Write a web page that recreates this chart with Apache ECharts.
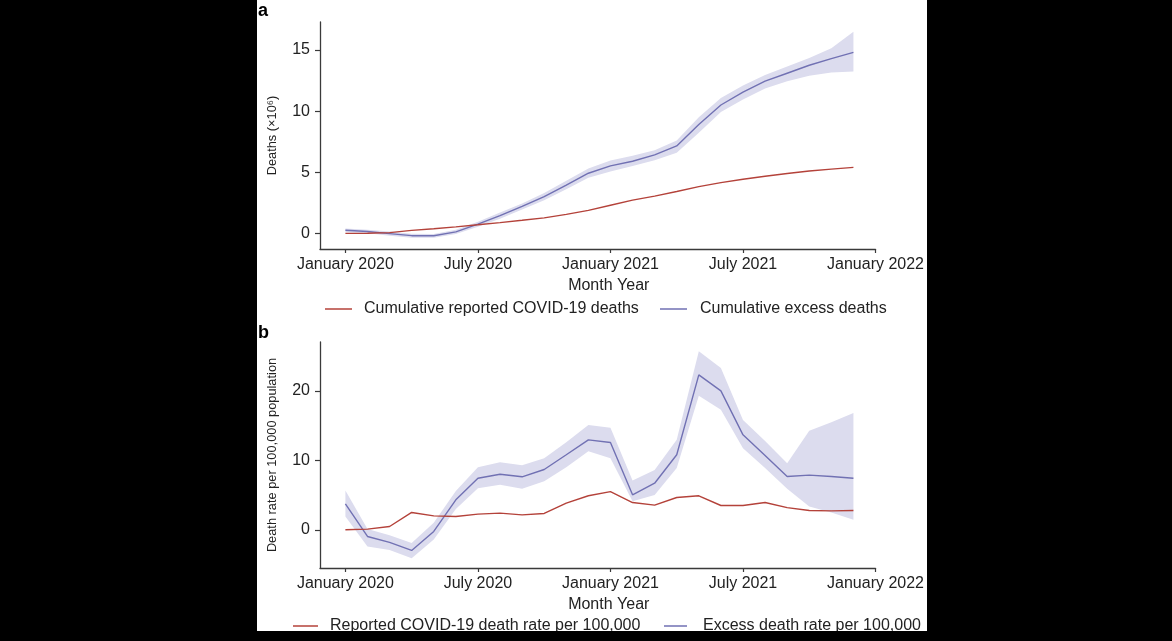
<!DOCTYPE html>
<html>
<head>
<meta charset="utf-8">
<script src="https://cdn.jsdelivr.net/npm/echarts@6/dist/echarts.min.js"></script>
<style>
  html, body { margin: 0; padding: 0; background: #000; width: 1172px; height: 641px; overflow: hidden; }
  #chart { position: absolute; left: 257px; top: 0; width: 670px; height: 631px; background: #fff; }
</style>
</head>
<body>
<div id="chart"></div>
<script>
// Months counted from January 2020 (0 = Jan 2020 ... 23 = Dec 2021)
const months = [0, 1, 2, 3, 4, 5, 6, 7, 8, 9, 10, 11, 12, 13, 14, 15, 16, 17, 18, 19, 20, 21, 22, 23];
const tickMonths = [0, 6, 12, 18, 24];
const tickLabels = ['January 2020', 'July 2020', 'January 2021', 'July 2021', 'January 2022'];

// Panel a: cumulative deaths (millions)
const cumReported = [0, 0.01, 0.06, 0.24, 0.38, 0.53, 0.7, 0.88, 1.07, 1.27, 1.55, 1.88,
                     2.3, 2.72, 3.05, 3.42, 3.82, 4.15, 4.43, 4.67, 4.9, 5.1, 5.25, 5.4];
const cumExcess = [0.25, 0.15, -0.02, -0.19, -0.2, 0.12, 0.75, 1.45, 2.2, 3.0, 3.95, 4.92,
                   5.52, 5.9, 6.42, 7.15, 8.9, 10.5, 11.55, 12.45, 13.1, 13.75, 14.3, 14.8];
const cumExcessLow = [0.1, 0.0, -0.2, -0.35, -0.35, -0.05, 0.55, 1.2, 1.95, 2.7, 3.6, 4.55,
                      5.05, 5.5, 5.98, 6.6, 8.24, 9.93, 10.95, 11.85, 12.45, 12.9, 13.15, 13.25];
const cumExcessHigh = [0.4, 0.3, 0.15, -0.03, -0.05, 0.3, 0.95, 1.7, 2.45, 3.3, 4.3, 5.3,
                       5.95, 6.35, 6.8, 7.6, 9.5, 11.07, 12.1, 12.95, 13.65, 14.35, 15.15, 16.5];
const cumYTicks = [0, 5, 10, 15];

// Panel b: monthly death rate per 100,000 population
const rateReported = [0, 0.1, 0.48, 2.5, 2.0, 1.92, 2.25, 2.4, 2.15, 2.35, 3.84, 4.9,
                      5.5, 3.93, 3.55, 4.65, 4.9, 3.5, 3.5, 3.93, 3.2, 2.78, 2.73, 2.78];
const rateExcess = [3.74, -0.96, -1.82, -2.97, -0.24, 4.32, 7.43, 8.0, 7.63, 8.68, 10.8, 12.95,
                    12.57, 5.04, 6.71, 10.8, 22.3, 20.0, 13.67, 10.7, 7.67, 7.87, 7.67, 7.43];
const rateExcessLow = [1.9, -2.4, -2.9, -4.1, -1.4, 3.0, 6.0, 6.5, 5.9, 7.0, 9.0, 11.3,
                       10.3, 4.1, 5.0, 8.9, 19.3, 17.3, 11.75, 8.9, 5.9, 3.35, 2.5, 1.45];
const rateExcessHigh = [5.66, 0.1, -0.8, -1.9, 1.0, 5.6, 9.0, 9.74, 9.3, 10.3, 12.6, 15.1,
                        14.7, 7.1, 8.6, 12.95, 25.7, 23.3, 15.8, 12.8, 9.6, 14.25, 15.5, 16.8];
const rateYTicks = [0, 10, 20];

const RED = '#b4423a';
const BLUE = '#7171b3';
const BAND = '#dcdcee';
const INK = '#222';
const AXIS = '#3a3a3a';
const FONT = '"Liberation Sans", Arial, Helvetica, sans-serif';

const pairs = (ys) => months.map((m, i) => [m, ys[i]]);
const bandRows = (lo, hi) => months.map((m, i) => [m, lo[i], hi[i]]);

function xAxisFor(gridIndex) {
  return {
    type: 'value', gridIndex, min: -1.15, max: 24,
    name: 'Month Year', nameLocation: 'middle', nameGap: 29,
    nameTextStyle: { fontFamily: FONT, fontSize: 16, color: INK, padding: [0, 0, 0, 22] },
    axisLine: { show: true, onZero: false, lineStyle: { color: AXIS, width: 1.3 } },
    axisTick: { show: true, customValues: tickMonths, length: 4, lineStyle: { color: AXIS, width: 1.2 } },
    axisLabel: {
      customValues: tickMonths, margin: 8, fontFamily: FONT, fontSize: 16, color: INK,
      formatter: (v) => tickLabels[tickMonths.indexOf(Math.round(v))] || ''
    },
    splitLine: { show: false }
  };
}

function yAxisFor(gridIndex, min, max, ticks, name) {
  return {
    type: 'value', gridIndex, min, max,
    name, nameLocation: 'middle', nameGap: 41,
    nameTextStyle: { fontFamily: FONT, fontSize: 12.8, color: INK },
    axisLine: { show: true, onZero: false, lineStyle: { color: AXIS, width: 1.3 } },
    axisTick: { show: true, customValues: ticks, length: 5, lineStyle: { color: AXIS, width: 1.2 } },
    axisLabel: { customValues: ticks, margin: 10, fontFamily: FONT, fontSize: 16, color: INK },
    splitLine: { show: false }
  };
}

// Shaded uncertainty band: one polygon through the upper bounds and back along the lower bounds
function bandSeries(idx, lo, hi) {
  return {
    type: 'custom', xAxisIndex: idx, yAxisIndex: idx, silent: true, z: 1,
    data: bandRows(lo, hi),
    encode: { x: 0, y: [1, 2] },
    renderItem: (params, api) => {
      if (params.dataIndex !== 0) return null;
      const upper = [];
      const lower = [];
      for (let i = 0; i < months.length; i++) {
        upper.push(api.coord([months[i], hi[i]]));
        lower.push(api.coord([months[i], lo[i]]));
      }
      return {
        type: 'polygon',
        shape: { points: upper.concat(lower.reverse()) },
        style: { fill: BAND, stroke: null }
      };
    }
  };
}

function panelSeries(idx, lo, hi, excess, reported, excessName, reportedName) {
  return [
    bandSeries(idx, lo, hi),
    {
      name: excessName, type: 'line', xAxisIndex: idx, yAxisIndex: idx, data: pairs(excess),
      symbol: 'none', lineStyle: { color: BLUE, width: 1.4 }, itemStyle: { color: BLUE }, z: 3
    },
    {
      name: reportedName, type: 'line', xAxisIndex: idx, yAxisIndex: idx, data: pairs(reported),
      symbol: 'none', lineStyle: { color: RED, width: 1.4 }, itemStyle: { color: RED }, z: 4
    }
  ];
}

function legendItem(name, color, left, top, width, textGap) {
  return {
    data: [name], left, top, icon: 'rect', itemWidth: width, itemHeight: 1.5,
    selectedMode: false, padding: 0,
    itemStyle: { color },
    textStyle: { fontFamily: FONT, fontSize: 16, color: INK, padding: [0, 0, 0, textGap] }
  };
}

const chart = echarts.init(document.getElementById('chart'), null, { renderer: 'canvas' });

chart.setOption({
  animation: false,
  backgroundColor: '#fff',
  title: [
    { text: 'a', left: 1, top: 2, padding: 0, textStyle: { fontFamily: FONT, fontSize: 18, fontWeight: 900, color: '#000' } },
    { text: 'b', left: 1, top: 324, padding: 0, textStyle: { fontFamily: FONT, fontSize: 18, fontWeight: 900, color: '#000' } }
  ],
  grid: [
    { left: 63, top: 22, width: 563, height: 227 },
    { left: 63, top: 342, width: 563, height: 226 }
  ],
  xAxis: [xAxisFor(0), xAxisFor(1)],
  yAxis: [
    yAxisFor(0, -1.28, 17.29, cumYTicks, 'Deaths (×10⁶)'),
    yAxisFor(1, -5.5, 27.04, rateYTicks, 'Death rate per 100,000 population')
  ],
  legend: [
    legendItem('Cumulative reported COVID-19 deaths', RED, 68, 301, 27, 7),
    legendItem('Cumulative excess deaths', BLUE, 403, 301, 27, 8),
    legendItem('Reported COVID-19 death rate per 100,000', RED, 36, 618, 25, 7),
    legendItem('Excess death rate per 100,000', BLUE, 407, 618, 23, 11)
  ],
  series: [
    ...panelSeries(0, cumExcessLow, cumExcessHigh, cumExcess, cumReported,
                   'Cumulative excess deaths', 'Cumulative reported COVID-19 deaths'),
    ...panelSeries(1, rateExcessLow, rateExcessHigh, rateExcess, rateReported,
                   'Excess death rate per 100,000', 'Reported COVID-19 death rate per 100,000')
  ]
});
</script>
</body>
</html>
